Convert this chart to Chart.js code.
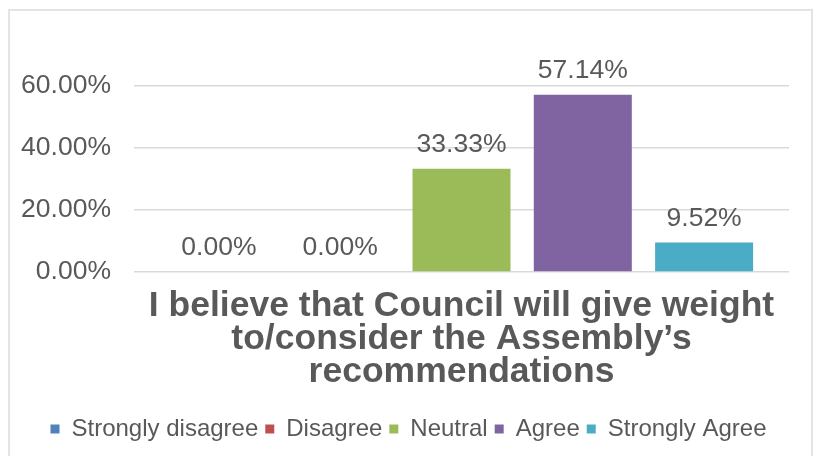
<!DOCTYPE html>
<html>
<head>
<meta charset="utf-8">
<script src="https://cdn.jsdelivr.net/npm/chart.js@4/dist/chart.umd.min.js"></script>
<style>
  html, body { margin: 0; padding: 0; background: #fff; overflow: hidden; }
  #frame { position: absolute; left: 8px; top: 9px; width: 801px; height: 500px; border: 2px solid #e4e4e4; }
  #graphique { position: absolute; left: 0; top: 0; }
</style>
</head>
<body>
<div id="frame"></div>
<canvas id="graphique" width="817" height="456"></canvas>
<script>
// survey answers, one bar per answer, values in percent
const question = ["I believe that Council will give weight", "to/consider the Assembly\u2019s", "recommendations"]
const answers = ["Strongly disagree", "Disagree", "Neutral", "Agree", "Strongly Agree"]
const percents = [0, 0, 33.33, 57.14, 9.52]
const colors = ["#4f81bd", "#c0504d", "#9bbb59", "#8064a2", "#4bacc6"]
const yTicks = [0, 20, 40, 60]

const textColor = "#595959"
const fontFamily = "'Liberation Sans', Arial, sans-serif"

// writes the value above each bar
const valueLabels = {
    id: "valueLabels",
    afterDatasetsDraw(chart) {
        const ctx = chart.ctx
        ctx.save()
        ctx.font = "26.5px " + fontFamily
        ctx.fillStyle = textColor
        ctx.textAlign = "center"
        ctx.textBaseline = "middle"
        chart.data.datasets.forEach((ds, i) => {
            chart.getDatasetMeta(i).data.forEach((bar, j) => {
                ctx.fillText(ds.data[j].toFixed(2) + "%", bar.x, bar.y - 24)
            })
        })
        ctx.restore()
    }
}

const cvs = document.getElementById("graphique")
new Chart(cvs, {
    type: "bar",
    data: {
        labels: [question],
        datasets: answers.map((name, i) => ({
            label: name,
            data: [percents[i]],
            backgroundColor: colors[i],
            borderWidth: 0,
            categoryPercentage: 0.926,
            barPercentage: 0.808
        }))
    },
    options: {
        responsive: false,
        animation: false,
        layout: { padding: { top: 86, right: 0, left: 0, bottom: 5 } },
        plugins: {
            tooltip: { enabled: false },
            legend: {
                position: "bottom",
                labels: {
                    boxWidth: 9,
                    boxHeight: 9,
                    padding: 7,
                    color: textColor,
                    font: { family: fontFamily, size: 24 }
                }
            }
        },
        scales: {
            x: {
                grid: { display: false, drawTicks: false },
                border: { display: false },
                ticks: {
                    color: textColor,
                    padding: 18,
                    maxRotation: 0,
                    font: { family: fontFamily, size: 35.5, weight: "bold", lineHeight: 0.93 }
                },
                afterFit: s => { s.height = 138 }
            },
            y: {
                min: 0,
                max: 60,
                afterBuildTicks: s => { s.ticks = yTicks.map(v => ({ value: v })) },
                grid: { color: "#d9d9d9", lineWidth: 1.5, drawTicks: false },
                border: { display: false },
                ticks: {
                    color: textColor,
                    padding: 23,
                    font: { family: fontFamily, size: 26.5 },
                    callback: v => v.toFixed(2) + "%"
                },
                afterFit: s => { s.width = 134 }
            },
            // empty right margin so the legend stays centred on the whole card
            yRight: {
                position: "right",
                grid: { display: false, drawTicks: false },
                border: { display: false },
                ticks: { display: false },
                afterFit: s => { s.width = 28 }
            }
        }
    },
    plugins: [valueLabels]
})
</script>
</body>
</html>
